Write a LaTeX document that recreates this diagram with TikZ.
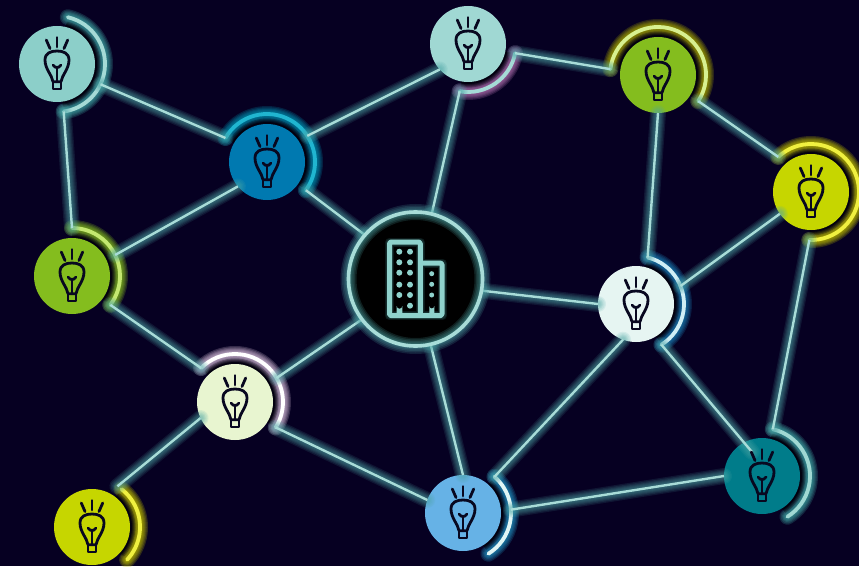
\documentclass[tikz,border=0pt]{standalone}
\definecolor{bgc}{HTML}{060022}
\definecolor{wirec}{HTML}{A8DCD8}
\definecolor{wireg}{HTML}{4FA8A8}
\definecolor{inkc}{HTML}{080820}
\definecolor{iconc}{HTML}{8FD2CC}
\definecolor{ca}{HTML}{8CCFC9}\definecolor{aa}{HTML}{A5DAD6}\definecolor{ga}{HTML}{3FA5A5}
\definecolor{cb}{HTML}{0079B0}\definecolor{ab}{HTML}{20B5D0}\definecolor{gb}{HTML}{0090B0}
\definecolor{cc}{HTML}{84BD1E}\definecolor{ac}{HTML}{C4E870}\definecolor{gc}{HTML}{84BD1E}
\definecolor{cd}{HTML}{E8F5D0}\definecolor{ad}{HTML}{FFFFFF}\definecolor{gd}{HTML}{D8C0DC}
\definecolor{ce}{HTML}{C6D600}\definecolor{ae}{HTML}{F0F040}\definecolor{ge}{HTML}{BDBD00}
\definecolor{cf}{HTML}{66B2E6}\definecolor{af}{HTML}{E0F5F5}\definecolor{gf}{HTML}{2090C0}
\definecolor{cg}{HTML}{007C8A}\definecolor{ag}{HTML}{A0D8D3}\definecolor{gg}{HTML}{3FA5A5}
\definecolor{ch}{HTML}{E6F5F2}\definecolor{ah}{HTML}{D0EEF5}\definecolor{gh}{HTML}{1A7FB5}
\definecolor{ci}{HTML}{A0D8D3}\definecolor{ai}{HTML}{A5DAD6}\definecolor{gi}{HTML}{B070B0}
\definecolor{gj}{HTML}{A8A800}\definecolor{aj}{HTML}{D8F090}
\tikzset{
  x=1pt,y=1pt,
  discnode/.style={circle,minimum size=76pt,inner sep=0pt,outer sep=0pt},
  shellnode/.style={circle,minimum size=96pt,inner sep=0pt,outer sep=0pt},
  hubnode/.style={circle,minimum size=134pt,inner sep=0pt,outer sep=0pt},
  bulbline/.style={draw=inkc,line width=2.8pt,line cap=round,line join=round},
  iconline/.style={draw=iconc,line width=5pt,line join=round,rounded corners=1.5pt},
  icondot/.style={fill=iconc}
}
\newcommand\halo[3][.13]{\foreach \w in {16,13.5,11,9,7,5}{\draw[#2,line width=\w pt,opacity=#1,line cap=round] #3;}}
\newcommand\lamp[8]{%
  \node[shellnode] (s#1) at (#2,566-#3) {};
  \halo[.22]{#6}{(s#1.center) ++(#7:48pt) arc[start angle=#7,end angle=#8,radius=48pt]}
  \draw[#5,line width=3.8pt,line cap=round] (s#1.center) ++(#7:48pt) arc[start angle=#7,end angle=#8,radius=48pt];
  \foreach \w in {3,6,9}{\draw[black,line width=\w pt,opacity=.22] (s#1.center) ++(#7:39pt) arc[start angle=#7,end angle=#8,radius=39pt];}
  \node[discnode,fill=#4] (n#1) at (s#1.center) {};
}
\newcommand\bulb[1]{%
  \begin{scope}[shift={(n#1.center)},yscale=-1]
    \draw[bulbline] (-4,17.7) .. controls (-5,11) and (-12,5) .. (-12,-4) .. controls (-12,-11) and (-6,-13) .. (0,-13) .. controls (6,-13) and (12,-11) .. (12,-4) .. controls (12,5) and (5,11) .. (4,17.7) -- cycle;
    \draw[bulbline] (-4,17.7) -- (-4,25) -- (4,25) -- (4,17.7);
    \draw[bulbline] (0,17.7) -- (0,3.5);
    \draw[bulbline] (-4,1) .. controls (-3,3) and (-1,3.5) .. (0,3.5) .. controls (1,3.5) and (3,3) .. (4,1);
    \draw[bulbline] (0,-26.5) -- (0,-17);
    \draw[bulbline] (-10.7,-24) -- (-7,-15.5);
    \draw[bulbline] (10.7,-24) -- (7,-15.5);
  \end{scope}}
\newcommand\wire[2]{%
  \halo{wireg}{(#1) -- (#2)}
  \draw[wirec,line width=2.4pt] (#1) -- (#2);}
\begin{document}
\begin{tikzpicture}
\useasboundingbox (0,0) rectangle (859,566);
\fill[bgc] (0,0) rectangle (859,566);
\clip (0,0) rectangle (859,566);
\lamp{1}{57}{64}{ca}{aa}{ga}{77}{-82}
\lamp{2}{267}{162}{cb}{ab}{gb}{150}{-36}
\lamp{3}{72}{276}{cc}{ac}{gc}{90}{-37}
\lamp{4}{235}{402}{cd}{ad}{gd}{135}{-32}
\lamp{5}{92}{527}{ce}{ae}{ge}{52}{-43}
\lamp{6}{463}{513}{cf}{af}{gf}{49}{-58}
\lamp{7}{762}{476}{cg}{ag}{gg}{77}{-58}
\lamp{8}{636}{304}{ch}{ah}{gh}{76}{-58}
\lamp{9}{468}{44}{ci}{ai}{gi}{-11}{-100}
\lamp{10}{658}{75}{cc}{aj}{gj}{173}{-33}
\lamp{11}{811}{192}{ce}{ae}{ge}{133}{-92}
\node[hubnode] (hub) at (415.5,566-279) {};
\coordinate (t7) at (752,566-452);
\wire{s1.-25}{s2.150}
\wire{s1.-82}{s3.90}
\wire{s3.-37}{s4.135}
\wire{n4.205}{s5.58}
\wire{s2.-36}{hub.139}
\wire{n2.220}{s3.26}
\wire{s2.33}{n9.222}
\wire{s9.-11}{s10.173}
\wire{s9.-100}{hub.76}
\wire{s10.-33}{s11.133}
\wire{n10.270}{s8.76}
\wire{n11.215}{s8.22}
\wire{s11.-92}{s7.77}
\wire{s8.-58}{t7}
\wire{n8.250}{s6.49}
\wire{n8.180}{hub.-10}
\wire{s6.4}{n7.180}
\wire{n6.90}{hub.-77}
\wire{n6.160}{s4.-32}
\wire{s4.30}{hub.217}
% hub
\fill[black] (hub.center) circle (67pt);
\foreach \w in {16,13,10,7,5}{\draw[wireg,line width=\w pt,opacity=.18] (hub.center) circle (67pt);}
\draw[wirec,line width=3.6pt] (hub.center) circle (67pt);
% building
\begin{scope}[shift={(0,566)},yscale=-1]
  \foreach \w in {9,7}{\draw[wireg,line width=\w pt,opacity=.15,line join=round] (420.3,263) -- (442,263) -- (442,315.7) -- (389.5,315.7) -- (389.5,242) -- (420.3,242) -- (420.3,315.7);}
  \draw[iconline] (420.3,263) -- (442,263) -- (442,315.7) -- (389.5,315.7) -- (389.5,242) -- (420.3,242) -- (420.3,315.7);
  \foreach \y in {251.7,262.3,272.7,284.7,295}{
    \fill[icondot] (399.3,\y) circle (3pt);
    \fill[icondot] (410,\y) circle (3pt);}
  \fill[icondot] (410,305.7) circle (3pt);
  \foreach \y in {273.7,284.3,295}{\fill[icondot] (431.7,\y) circle (2.5pt);}
  \fill[icondot] (396.7,316) -- (396.7,306) arc[start angle=180,end angle=0,radius=2.8pt] -- (402.3,316) -- cycle;
  \fill[icondot] (429.3,316) -- (429.3,306) arc[start angle=180,end angle=0,radius=2.5pt] -- (434.3,316) -- cycle;
\end{scope}
\foreach \k in {1,...,11}{\bulb{\k}}
\end{tikzpicture}
\end{document}
